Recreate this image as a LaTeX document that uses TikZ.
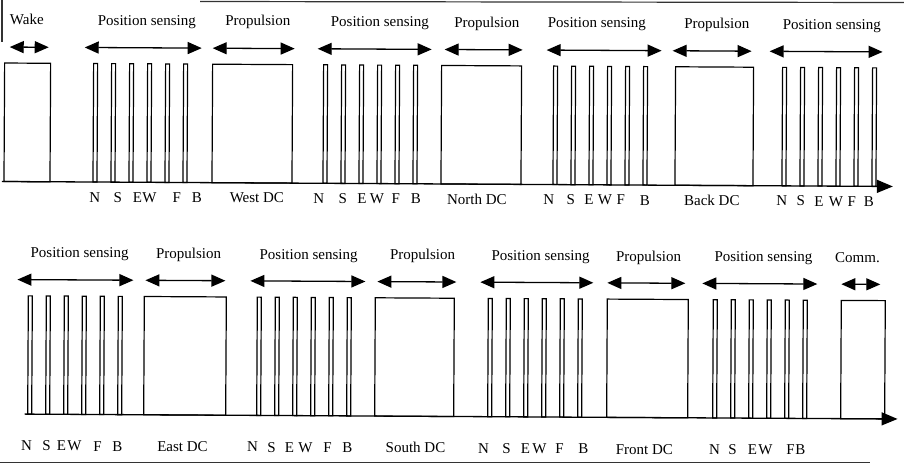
\documentclass[tikz,border=0pt]{standalone}
\usepackage{fontspec}
\setmainfont{Liberation Serif}
\usetikzlibrary{arrows.meta}

\begin{document}
\begin{tikzpicture}[x=1pt, y=-1pt,
    pulse/.style={draw, line width=1.2pt},
    span/.style={{Triangle[length=14pt,width=12pt]}-{Triangle[length=14pt,width=12pt]}, line width=1.3pt},
    timeaxis/.style={-{Triangle[length=16pt,width=13pt]}, line width=1.3pt},
    lbl/.style={font=\fontsize{15}{17}\selectfont, anchor=base, inner sep=0pt}]
  \useasboundingbox (0,0) rectangle (904,466);

  % remnants of the scanned frame
  \draw[line width=1.2pt, black!80] (200,1.5) -- (904,2.5);
  \draw[line width=1.2pt, black!80] (2,0) -- (2,42);
  \draw[line width=1.2pt, black!80] (0,462.5) -- (870,462.5);

  \begin{scope}[rotate=-0.32]
    % ---------------- top row ----------------
    \coordinate (t0) at (3,181.5);
    \coordinate (t1) at (894,181.5);
    \draw[timeaxis] (t0) -- (t1);

    % wake and propulsion pulses
    \foreach \a/\b in {5/51, 213/293, 442/522, 676/754}
      \draw[pulse] (\a,181.5) rectangle (\b,63);
    % position sensing slots N S E W F B
    \foreach \s in {94, 324, 554, 783}
      \foreach \i in {0,...,5}
        \draw[pulse] ({\s+18*\i},181.5) rectangle ++(4,-118.5);

    % phase spans
    \foreach \n/\a/\b in {wake/10/49, psa/85/202, pra/213/295, psb/318/432,
                          prb/445/523, psc/547/662, prc/673/752, psd/770/883} {
      \coordinate (\n-l) at (\a,47);
      \coordinate (\n-r) at (\b,47);
      \draw[span] (\n-l) -- (\n-r);
    }

    % phase names
    \foreach \n/\x/\t in {wake/27/Wake, psa/147/Position sensing, pra/258/Propulsion,
                          psb/380/Position sensing, prb/487/Propulsion,
                          psc/597/Position sensing, prc/717/Propulsion,
                          psd/832/Position sensing}
      \node[lbl] (\n-t) at (\x,24.5) {\t};

    % slot and motor names
    \foreach \t/\x [count=\k] in {N/96, S/119, E/138.5, W/150.5, F/178, B/198,
                                  N/320, S/344, E/363, W/378, F/397, B/417,
                                  N/550, S/572, E/590, W/606, F/622, B/646,
                                  N/783, S/802, E/820, W/837, F/853, B/870}
      \node[lbl] (ta-\k) at (\x,201.5) {\t};
    \foreach \n/\x/\t in {wdc/258/West DC, ndc/478/North DC, bdc/713/Back DC}
      \node[lbl] (\n) at (\x,201.5) {\t};

    % ---------------- bottom row ----------------
    \coordinate (b0) at (27,414);
    \coordinate (b1) at (900,414);
    \draw[timeaxis] (b0) -- (b1);

    % propulsion and comm pulses
    \foreach \a/\b in {146/228, 377/456, 609/690, 843/887}
      \draw[pulse] (\a,414) rectangle (\b,295.7);
    \foreach \s in {30, 259, 490, 715}
      \foreach \i in {0,...,5}
        \draw[pulse] ({\s+18*\i},414) rectangle ++(4,-118.3);

    \foreach \n/\a/\b in {pse/19/135, pre/147/227, psf/252/367, prf/379/458,
                          psg/482/595, prg/609/687, psh/704/819, comm/843/882} {
      \coordinate (\n-l) at (\a,279.5);
      \coordinate (\n-r) at (\b,279.5);
      \draw[span] (\n-l) -- (\n-r);
    }

    \foreach \n/\x/\t in {pse/81/Position sensing, pre/190/Propulsion,
                          psf/310/Position sensing, prf/424/Propulsion,
                          psg/542/Position sensing, prg/650/Propulsion,
                          psh/765/Position sensing, comm/859/Comm.}
      \node[lbl] (\n-t) at (\x,257.5) {\t};

    \foreach \t/\x [count=\k] in {N/29, S/49, E/64, W/77, F/100, B/120,
                                  N/255, S/274, E/292, W/308, F/330, B/350,
                                  N/486, S/509, E/528, W/542, F/562, B/586,
                                  N/717, S/735, E/755, W/768, F/793, B/803}
      \node[lbl] (ba-\k) at (\x,450.5) {\t};
    \foreach \n/\x/\t in {edc/185/East DC, sdc/418/South DC, fdc/647/Front DC}
      \node[lbl] (\n) at (\x,450.5) {\t};
  \end{scope}
\end{tikzpicture}
\end{document}
